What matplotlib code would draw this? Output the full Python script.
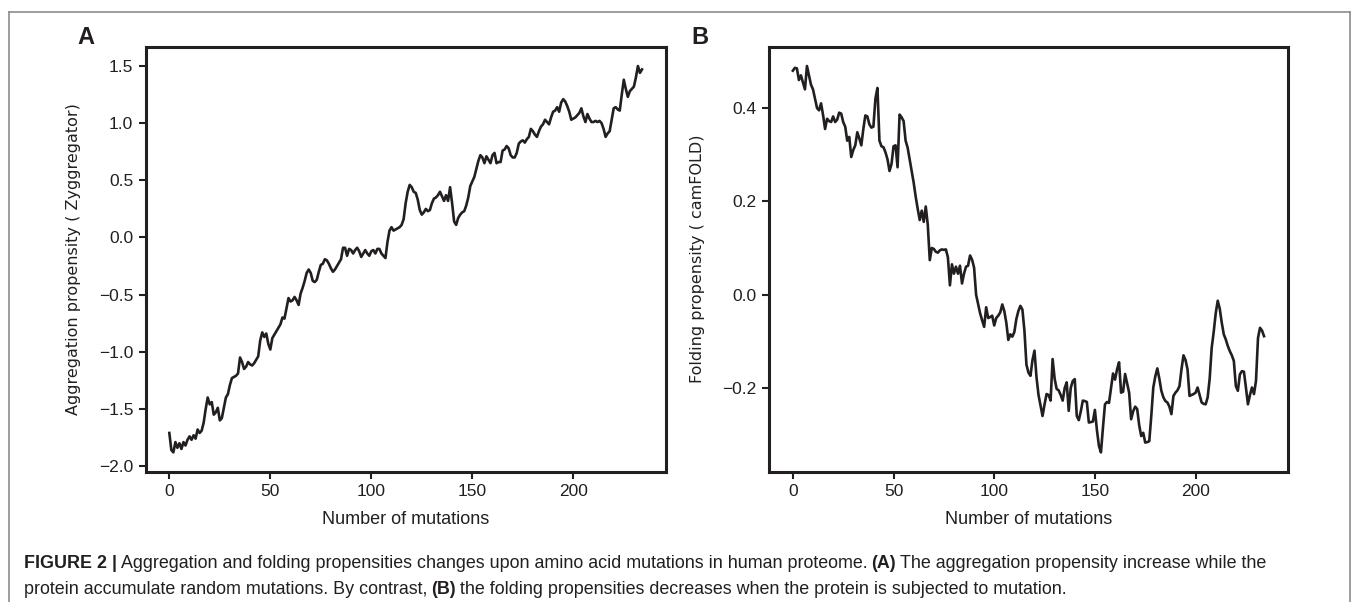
import matplotlib
matplotlib.use("Agg")
import matplotlib.pyplot as plt
from matplotlib import font_manager
from matplotlib.lines import Line2D

# Aggregation propensity (Zyggregator), one value per mutation step
aggregation = [
    -1.71, -1.86, -1.88, -1.79, -1.84, -1.80, -1.85, -1.79, -1.82, -1.77,
    -1.74, -1.77, -1.73, -1.76, -1.68, -1.71, -1.69, -1.62, -1.50, -1.40,
    -1.46, -1.44, -1.55, -1.53, -1.49, -1.60, -1.58, -1.49, -1.40, -1.37,
    -1.29, -1.23, -1.22, -1.21, -1.19, -1.05, -1.09, -1.15, -1.13, -1.09,
    -1.11, -1.12, -1.10, -1.07, -1.04, -0.90, -0.83, -0.87, -0.84, -0.93,
    -0.98, -0.88, -0.85, -0.82, -0.79, -0.76, -0.70, -0.71, -0.62, -0.53,
    -0.56, -0.55, -0.52, -0.55, -0.59, -0.49, -0.44, -0.38, -0.31, -0.28,
    -0.31, -0.38, -0.39, -0.37, -0.30, -0.24, -0.23, -0.19, -0.20, -0.23,
    -0.27, -0.30, -0.28, -0.25, -0.22, -0.19, -0.09, -0.09, -0.16, -0.10,
    -0.11, -0.14, -0.11, -0.09, -0.12, -0.17, -0.14, -0.11, -0.14, -0.16,
    -0.12, -0.11, -0.14, -0.10, -0.10, -0.14, -0.16, -0.18, -0.04, 0.06,
    0.09, 0.06, 0.07, 0.08, 0.09, 0.11, 0.16, 0.30, 0.40, 0.46,
    0.44, 0.40, 0.39, 0.33, 0.24, 0.20, 0.22, 0.25, 0.23, 0.24,
    0.30, 0.34, 0.35, 0.37, 0.40, 0.36, 0.32, 0.37, 0.32, 0.44,
    0.30, 0.14, 0.11, 0.17, 0.20, 0.22, 0.23, 0.28, 0.35, 0.45,
    0.49, 0.53, 0.60, 0.67, 0.72, 0.70, 0.65, 0.71, 0.68, 0.65,
    0.72, 0.74, 0.65, 0.66, 0.66, 0.76, 0.77, 0.80, 0.78, 0.72,
    0.70, 0.70, 0.74, 0.82, 0.84, 0.85, 0.83, 0.86, 0.88, 0.95,
    0.93, 0.90, 0.88, 0.93, 0.97, 0.99, 1.03, 1.01, 0.99, 1.05,
    1.10, 1.11, 1.14, 1.10, 1.18, 1.21, 1.19, 1.15, 1.10, 1.03,
    1.04, 1.05, 1.07, 1.09, 1.13, 1.06, 1.01, 1.08, 1.04, 1.01,
    1.01, 1.02, 1.01, 1.02, 1.00, 0.95, 0.88, 0.91, 0.93, 1.03,
    1.13, 1.14, 1.12, 1.11, 1.25, 1.38, 1.30, 1.23, 1.28, 1.30,
    1.32, 1.40, 1.50, 1.44, 1.47,
]

# Folding propensity (camFOLD), one value per mutation step
folding = [
    0.480, 0.486, 0.485, 0.460, 0.470, 0.455, 0.440, 0.490, 0.470, 0.450,
    0.440, 0.420, 0.400, 0.395, 0.410, 0.385, 0.355, 0.377, 0.372, 0.370,
    0.382, 0.370, 0.375, 0.390, 0.388, 0.370, 0.360, 0.330, 0.338, 0.295,
    0.310, 0.320, 0.348, 0.335, 0.320, 0.355, 0.384, 0.382, 0.365, 0.358,
    0.360, 0.420, 0.443, 0.330, 0.318, 0.316, 0.305, 0.290, 0.265, 0.280,
    0.318, 0.320, 0.273, 0.386, 0.380, 0.372, 0.330, 0.315, 0.290, 0.265,
    0.240, 0.210, 0.184, 0.160, 0.180, 0.156, 0.189, 0.150, 0.074, 0.100,
    0.098, 0.092, 0.090, 0.095, 0.097, 0.096, 0.097, 0.080, 0.020, 0.065,
    0.045, 0.060, 0.045, 0.062, 0.024, 0.045, 0.060, 0.062, 0.084, 0.075,
    0.058, 0.000, -0.020, -0.040, -0.055, -0.069, -0.027, -0.050, -0.048, -0.045,
    -0.066, -0.050, -0.045, -0.038, -0.021, -0.035, -0.060, -0.097, -0.085, -0.090,
    -0.080, -0.052, -0.035, -0.024, -0.032, -0.077, -0.150, -0.167, -0.174, -0.140,
    -0.120, -0.177, -0.215, -0.238, -0.260, -0.235, -0.213, -0.215, -0.227, -0.138,
    -0.180, -0.202, -0.205, -0.215, -0.227, -0.200, -0.188, -0.249, -0.200, -0.185,
    -0.181, -0.260, -0.269, -0.250, -0.227, -0.228, -0.230, -0.274, -0.273, -0.272,
    -0.247, -0.290, -0.324, -0.338, -0.285, -0.235, -0.230, -0.232, -0.200, -0.169,
    -0.182, -0.160, -0.145, -0.210, -0.208, -0.170, -0.190, -0.210, -0.267, -0.250,
    -0.240, -0.245, -0.280, -0.303, -0.296, -0.317, -0.316, -0.314, -0.260, -0.199,
    -0.175, -0.158, -0.180, -0.206, -0.220, -0.228, -0.231, -0.240, -0.256, -0.217,
    -0.210, -0.205, -0.196, -0.160, -0.130, -0.140, -0.160, -0.217, -0.215, -0.213,
    -0.210, -0.199, -0.215, -0.231, -0.234, -0.235, -0.220, -0.180, -0.114, -0.080,
    -0.040, -0.013, -0.030, -0.060, -0.085, -0.096, -0.110, -0.121, -0.130, -0.142,
    -0.196, -0.206, -0.171, -0.164, -0.165, -0.199, -0.235, -0.215, -0.199, -0.213,
    -0.185, -0.093, -0.071, -0.077, -0.089,
]

mutations = list(range(len(aggregation)))

x_ticks = [0, 50, 100, 150, 200]
agg_ticks = [-2.0, -1.5, -1.0, -0.5, 0.0, 0.5, 1.0, 1.5]
fold_ticks = [-0.2, 0.0, 0.2, 0.4]

caption_line1 = [
    ("FIGURE 2 |", "bold"),
    ("Aggregation and folding propensities changes upon amino acid mutations in human proteome.", "normal"),
    ("(A)", "bold"),
    ("The aggregation propensity increase while the", "normal"),
]
caption_line2 = [
    ("protein accumulate random mutations. By contrast,", "normal"),
    ("(B)", "bold"),
    ("the folding propensities decreases when the protein is subjected to mutation.", "normal"),
]

W, H = 1355, 602
installed = {f.name for f in font_manager.fontManager.ttflist}
narrow = "Liberation Sans Narrow" if "Liberation Sans Narrow" in installed else "Liberation Sans"

fig = plt.figure(figsize=(W / 100, H / 100), dpi=100)
fig.patch.set_facecolor("white")


def px_axes(left, top, right, bottom):
    return fig.add_axes([left / W, 1 - bottom / H, (right - left) / W, (bottom - top) / H])


panels = [
    (px_axes(145.7, 46.7, 665.6, 471.7), aggregation, agg_ticks,
     "Aggregation propensity ( Zyggregator)", "A", 86),
    (px_axes(769.3, 46.7, 1287.6, 471.7), folding, fold_ticks,
     "Folding propensity ( camFOLD)", "B", 700),
]

for ax, values, yticks, ylabel, letter, letter_x in panels:
    ax.plot(mutations, values, color="#231f20", lw=1.9)
    ax.set_xticks(x_ticks)
    ax.set_yticks(yticks)
    ax.set_xticklabels([str(t) for t in x_ticks])
    ax.set_yticklabels([f"{t:.1f}".replace("-", "\u2212") for t in yticks])
    for lab in ax.get_xticklabels() + ax.get_yticklabels():
        lab.set_family("Liberation Sans")
        lab.set_fontsize(12.5)
        lab.set_color("#231f20")
    ax.tick_params(length=5, width=1.5, color="#231f20", pad=4)
    for sp in ax.spines.values():
        sp.set_linewidth(2.2)
        sp.set_color("#231f20")
    ax.set_xlabel("Number of mutations", family="Liberation Sans", fontsize=13, color="#231f20")
    ax.xaxis.set_label_coords(0.5, -0.093)
    ax.set_ylabel(ylabel, family="DejaVu Sans", fontsize=11.5, color="#231f20")
    ax.yaxis.set_label_coords(-0.124, 0.5)
    fig.text(letter_x / W, 1 - 38 / H, letter, family="Liberation Sans",
             fontweight="bold", fontsize=17, ha="center", va="center", color="#231f20")

# gray frame around figure and caption
frame = dict(color="#8c8c8c", lw=1.2, transform=fig.transFigure)
fig.add_artist(Line2D([9 / W, 1350 / W], [1 - 12 / H, 1 - 12 / H], **frame))
fig.add_artist(Line2D([9 / W, 9 / W], [1 - 12 / H, 0], **frame))
fig.add_artist(Line2D([1350 / W, 1350 / W], [1 - 12 / H, 0], **frame))

# caption with mixed weights, sized so that the first line fills the frame
renderer = fig.canvas.get_renderer()


def line_width(segments, size):
    total = 0
    for s, w in segments:
        t = fig.text(0, 0, s, family=narrow, fontweight=w, fontsize=size)
        total += t.get_window_extent(renderer).width
        t.remove()
    return total + (len(segments) - 1) * size * 0.3


def draw_line(segments, x, baseline, size):
    for s, w in segments:
        t = fig.text(x / W, 1 - baseline / H, s, family=narrow, fontweight=w,
                     fontsize=size, va="baseline", color="#231f20")
        x += t.get_window_extent(renderer).width + size * 0.3


cap_size = 10 * (1257 - 3 * 3) / line_width(caption_line1, 10)
draw_line(caption_line1, 24, 568, cap_size)
draw_line(caption_line2, 24, 594, cap_size)

fig.savefig("out.png", dpi=100, facecolor="white")
